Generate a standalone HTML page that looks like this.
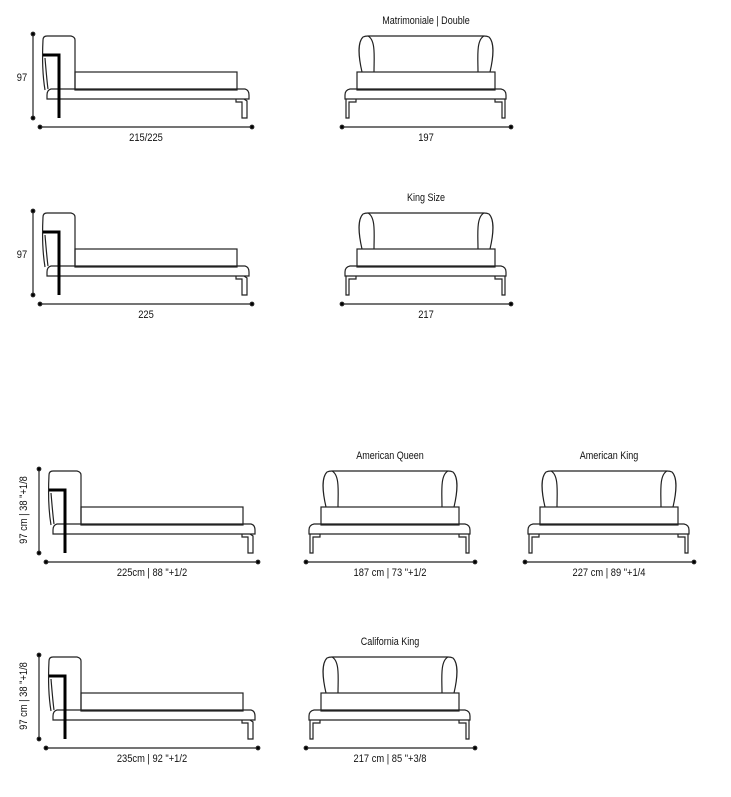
<!DOCTYPE html>
<html><head><meta charset="utf-8"><style>
html,body{margin:0;padding:0;background:#fff;}
svg{display:block;}
text{font-family:"Liberation Sans",sans-serif;font-size:11px;fill:#111;}
</style></head><body>
<svg width="731" height="797" viewBox="0 0 731 797" xmlns="http://www.w3.org/2000/svg">
<defs>
<g id="side" fill="none" stroke="#222" stroke-width="1.2">
  <path d="M45,90 C43,78 42,60 43,40 Q43,36 47,36 L71,36 Q75,37 75,40 L75,90"/>
  <path d="M45,58 C46,70 47,82 48,89"/>
  <rect x="75" y="72" width="162" height="18"/>
  <path d="M51,89 L245,89 Q249,90 249,95 L249,99 L47,99 L47,95 Q47,90 51,89 Z"/>
  <polyline points="43,55 59,55 59,118" stroke="#000" stroke-width="3"/>
  <path d="M236,99 L236,102 L242,102 L242,118 L247,118 L247,101 L244,99"/>
  <line x1="33" y1="34" x2="33" y2="118"/>
  <circle cx="33" cy="34" r="1.8" fill="#000"/>
  <circle cx="33" cy="118" r="1.8" fill="#000"/>
  <line x1="40" y1="127" x2="252" y2="127"/>
  <circle cx="40" cy="127" r="1.8" fill="#000"/>
  <circle cx="252" cy="127" r="1.8" fill="#000"/>
</g>
<g id="front" fill="none" stroke="#222" stroke-width="1.2">
  <path d="M362,72 C358,55 358,42 363,37 Q365,36 368,36 L484,36 Q487,36 489,37 C494,42 494,55 490,72"/>
  <path d="M368,36 C376,40 374,58 374,72"/>
  <path d="M484,36 C476,40 478,58 478,72"/>
  <rect x="357" y="72" width="138" height="18"/>
  <path d="M350,89 L501,89 Q506,90 506,95 L506,99 L345,99 L345,95 Q345,90 350,89 Z"/>
  <path d="M346,99 L346,118 L349,118 L349,102 L356,102 L356,99"/>
  <path d="M505,99 L505,118 L502,118 L502,102 L495,102 L495,99"/>
  <line x1="342" y1="127" x2="511" y2="127"/>
  <circle cx="342" cy="127" r="1.8" fill="#000"/>
  <circle cx="511" cy="127" r="1.8" fill="#000"/>
</g>
</defs>

<use href="#side"/>
<text transform="translate(22,81) scale(0.85,1)" text-anchor="middle">97</text>
<text transform="translate(146,141) scale(0.85,1)" text-anchor="middle">215/225</text>
<use href="#front"/>
<text transform="translate(426,24) scale(0.82,1)" text-anchor="middle">Matrimoniale | Double</text>
<text transform="translate(426,141) scale(0.85,1)" text-anchor="middle">197</text>

<g transform="translate(0,177)">
<use href="#side"/>
<text transform="translate(22,81) scale(0.85,1)" text-anchor="middle">97</text>
<text transform="translate(146,141) scale(0.85,1)" text-anchor="middle">225</text>
<use href="#front"/>
<text transform="translate(426,24) scale(0.82,1)" text-anchor="middle">King Size</text>
<text transform="translate(426,141) scale(0.85,1)" text-anchor="middle">217</text>
</g>

<g transform="translate(6,435)">
<use href="#side"/>
<text transform="translate(146,141) scale(0.85,1)" text-anchor="middle">225cm | 88 "+1/2</text>
</g>
<text transform="translate(27,510) rotate(-90) scale(0.85,1)" text-anchor="middle">97 cm | 38 "+1/8</text>
<g transform="translate(-36,435)">
<use href="#front"/>
<text transform="translate(426,24) scale(0.82,1)" text-anchor="middle">American Queen</text>
<text transform="translate(426,141) scale(0.85,1)" text-anchor="middle">187 cm | 73 "+1/2</text>
</g>
<g transform="translate(183,435)">
<use href="#front"/>
<text transform="translate(426,24) scale(0.82,1)" text-anchor="middle">American King</text>
<text transform="translate(426,141) scale(0.85,1)" text-anchor="middle">227 cm | 89 "+1/4</text>
</g>

<g transform="translate(6,621)">
<use href="#side"/>
<text transform="translate(146,141) scale(0.85,1)" text-anchor="middle">235cm | 92 "+1/2</text>
</g>
<text transform="translate(27,696) rotate(-90) scale(0.85,1)" text-anchor="middle">97 cm | 38 "+1/8</text>
<g transform="translate(-36,621)">
<use href="#front"/>
<text transform="translate(426,24) scale(0.82,1)" text-anchor="middle">California King</text>
<text transform="translate(426,141) scale(0.85,1)" text-anchor="middle">217 cm | 85 "+3/8</text>
</g>
</svg>
</body></html>
